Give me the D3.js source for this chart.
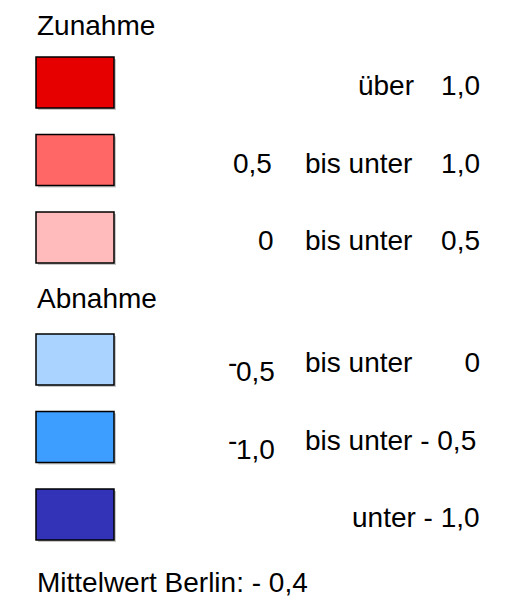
<!DOCTYPE html>
<html>
<head>
<meta charset="utf-8">
<script src="https://cdn.jsdelivr.net/npm/d3@7"></script>
<style>
  html, body { margin: 0; padding: 0; background: #fff; }
  svg { display: block; font-family: "Liberation Sans", Arial, sans-serif; }
</style>
</head>
<body>
<svg id="chart" width="526" height="610"></svg>
<script>
// ---- data ----
const categories = ["über 1,0", "0,5 bis unter 1,0", "0 bis unter 0,5",
                    "-0,5 bis unter 0", "-1,0 bis unter -0,5", "unter -1,0"];
const groups = ["Zunahme", "Zunahme", "Zunahme", "Abnahme", "Abnahme", "Abnahme"];
const groupTitles = ["Zunahme", "Abnahme"];
const fromLabels = ["", "0,5", "0", "0,5", "1,0", ""];
const fromNegative = [false, false, false, true, true, false];
const midLabels = ["über", "bis unter", "bis unter", "bis unter", "bis unter - 0,5", "unter - 1,0"];
const toLabels = ["1,0", "1,0", "0,5", "0", "", ""];
const colors = ["#e60000", "#ff6666", "#ffbbbb", "#aad4ff", "#3d9eff", "#3333b8"];
const footnote = "Mittelwert Berlin: - 0,4";

// ---- layout ----
const fontSize = 28;
const svg = d3.select("#chart");
const groupGap = 44.5;
const slot = d3.scaleLinear().domain([0, 1]).range([57, 134.5]);
const yTop = i => slot(i) + (i >= 3 ? groupGap : 0);
const boxX = 36, boxW = 78, boxH = 51;
const baseOff = 38;

// group titles
const titleY = { "Zunahme": 35, "Abnahme": 308 };
svg.selectAll("text.title").data(groupTitles).join("text")
  .attr("class", "title")
  .attr("x", 37).attr("y", d => titleY[d])
  .attr("font-size", fontSize).attr("fill", "#000")
  .text(d => d);

const rows = svg.selectAll("g.row").data(categories).join("g").attr("class", "row");

// shadow
rows.append("rect")
  .attr("x", boxX + 2).attr("y", (d, i) => yTop(i) + 2)
  .attr("width", boxW).attr("height", boxH)
  .attr("fill", "#c8c8c8");
// box
rows.append("rect")
  .attr("x", boxX).attr("y", (d, i) => yTop(i))
  .attr("width", boxW).attr("height", boxH)
  .attr("fill", (d, i) => colors[i])
  .attr("stroke", "#000").attr("stroke-width", 1.5);

// from labels
const fromX = [0, 233, 258, 236, 236, 0];
rows.filter((d, i) => fromLabels[i] !== "").append("text")
  .attr("x", d => fromX[categories.indexOf(d)])
  .attr("y", d => { const i = categories.indexOf(d); return yTop(i) + baseOff + (fromNegative[i] ? 9 : 0); })
  .attr("font-size", fontSize)
  .text(d => fromLabels[categories.indexOf(d)]);
// raised minus
rows.filter((d, i) => fromNegative[i]).append("text")
  .attr("x", 228)
  .attr("y", d => yTop(categories.indexOf(d)) + baseOff)
  .attr("font-size", fontSize)
  .text("-");

// mid labels
const midX = [414, 305, 305, 305, 305, 352];
const midAnchor = ["end", "start", "start", "start", "start", "start"];
rows.append("text")
  .attr("x", (d, i) => midX[categories.indexOf(d)])
  .attr("text-anchor", d => midAnchor[categories.indexOf(d)])
  .attr("y", d => yTop(categories.indexOf(d)) + baseOff)
  .attr("font-size", fontSize)
  .text(d => midLabels[categories.indexOf(d)]);

// to labels
rows.filter((d, i) => toLabels[i] !== "").append("text")
  .attr("x", 480)
  .attr("text-anchor", "end")
  .attr("y", d => yTop(categories.indexOf(d)) + baseOff)
  .attr("font-size", fontSize)
  .text(d => toLabels[categories.indexOf(d)]);

// footnote
svg.append("text")
  .attr("x", 37).attr("y", 592)
  .attr("font-size", fontSize)
  .text(footnote);
</script>
</body>
</html>
